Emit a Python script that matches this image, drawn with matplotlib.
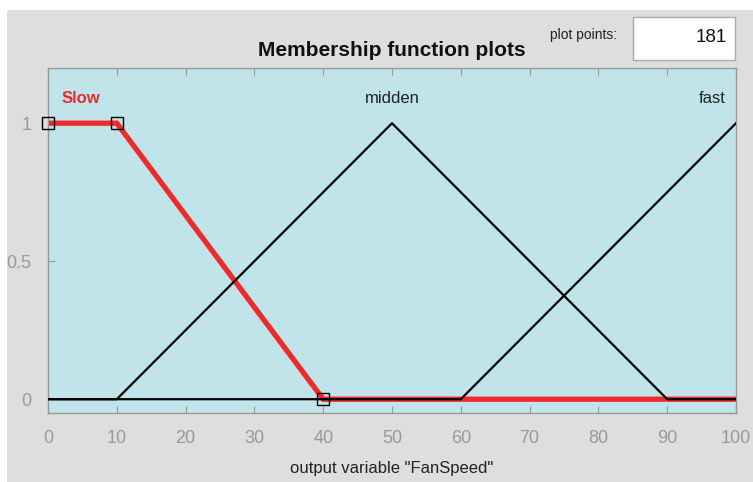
import matplotlib
matplotlib.use("Agg")
import matplotlib.pyplot as plt
from matplotlib.patches import Rectangle

plt.rcParams['font.family'] = ['Liberation Sans Narrow', 'Liberation Sans', 'DejaVu Sans']

# data
x_ticks = [0, 10, 20, 30, 40, 50, 60, 70, 80, 90, 100]
y_ticks = [0, 0.5, 1]
y_ticklabels = ["0", "0.5", "1"]
slow_x = [0, 10, 40, 100]
slow_y = [1, 1, 0, 0]
slow_marker_x = [0, 10, 40]
slow_marker_y = [1, 1, 0]
midden_x = [0, 10, 50, 90, 100]
midden_y = [0, 0, 1, 0, 0]
fast_x = [0, 60, 100]
fast_y = [0, 0, 1]
mf_names = ["Slow", "midden", "fast"]
plot_points = "181"

fig = plt.figure(figsize=(7.53, 4.82), dpi=100)
fig.patch.set_facecolor("white")
W, H = 753, 482
# grey panel
fig.patches.append(Rectangle((7 / W, 0), 1 - 7 / W, 1 - 10 / H, transform=fig.transFigure,
                             facecolor="#dedede", edgecolor="none", zorder=-5))

ax = fig.add_axes([48 / W, 1 - 413 / H, (736 - 48) / W, (413 - 68) / H])
ax.set_zorder(2)
ax.set_facecolor("#c0e4ea")
ax.set_xlim(0, 100)
ax.set_ylim(-0.05, 1.2)

ax.plot(midden_x, midden_y, color="black", lw=1.6, zorder=3)
ax.plot(fast_x, fast_y, color="black", lw=1.6, zorder=3)
ax.plot(slow_x, slow_y, color="#ee2a2a", lw=3.8, zorder=2, solid_joinstyle="miter")
ax.plot(slow_marker_x, slow_marker_y, ls="none", marker="s", ms=8, mfc="none",
        mec="black", mew=1.0, zorder=4, clip_on=False)

ax.text(2, 1.09, mf_names[0], color="#ee2a2a", fontsize=12, fontweight="bold",
        ha="left", va="center")
ax.text(50, 1.09, mf_names[1], color="#222222", fontsize=12, ha="center", va="center")
ax.text(98.5, 1.09, mf_names[2], color="#222222", fontsize=12, ha="right", va="center")

ax.set_xticks(x_ticks)
ax.set_xticklabels([str(v) for v in x_ticks])
ax.set_yticks(y_ticks)
ax.set_yticklabels(y_ticklabels)
ax.tick_params(direction="in", top=True, right=False, length=5, width=0.8,
               colors="#999999", labelsize=13, labelcolor="#999999")
ax.tick_params(axis="x", pad=12)
ax.tick_params(axis="y", pad=12)
for s in ax.spines.values():
    s.set_color("#999999")
    s.set_linewidth(1.0)

ax.set_xlabel('output variable "FanSpeed"', fontsize=12, color="#222222", labelpad=10)
fig.text(392 / W, 1 - 50 / H, "Membership function plots", fontsize=15, fontweight="bold",
         ha="center", va="center", color="#111111")
fig.text(583 / W, 1 - 35 / H, "plot points:", fontsize=10, ha="center", va="center",
         color="#222222")
fig.patches.append(Rectangle((633 / W, 1 - 60 / H), (735 - 633) / W, (60 - 17) / H,
                             transform=fig.transFigure, facecolor="white",
                             edgecolor="#aaaaaa", lw=1.0, zorder=1))
fig.text(727 / W, 1 - 38 / H, plot_points, fontsize=13.5, ha="right", va="center",
         color="#111111")

fig.savefig("out.png", dpi=100)
